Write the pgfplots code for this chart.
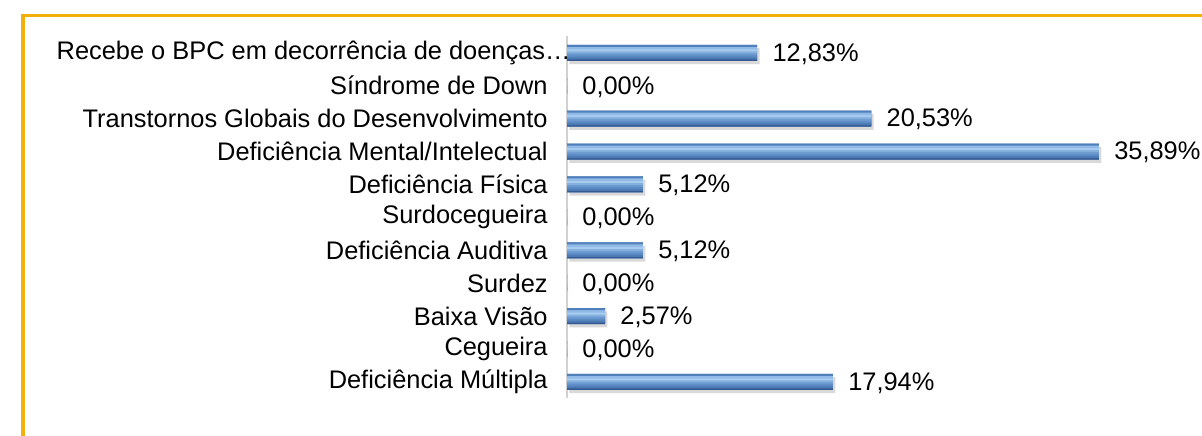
\documentclass[border=0pt]{standalone}
\usepackage{fontspec}
\setmainfont{Liberation Sans}
\usepackage{pgfplots}
\usepackage{pgfplotstable}
\pgfplotsset{compat=1.18}
\usetikzlibrary{shadows}
\definecolor{frame}{RGB}{240,178,10}
\definecolor{b0}{RGB}{80,128,188}
\definecolor{b1}{RGB}{145,186,230}
\definecolor{b2}{RGB}{168,204,240}
\definecolor{b3}{RGB}{132,176,222}
\definecolor{b4}{RGB}{108,154,208}
\definecolor{b5}{RGB}{92,139,196}
\definecolor{b6}{RGB}{76,122,180}
\definecolor{b7}{RGB}{52,90,145}
\pgfplotstableread{
val pos
17.94 0
0 1
2.57 2
0 3
5.12 4
0 5
5.12 6
35.89 7
20.53 8
0 9
12.83 10
}\datatab
\begin{document}
\begin{tikzpicture}
\useasboundingbox (0,0) rectangle (601pt,217.5pt);
\draw[frame, line width=1.6pt] (11.5pt,-2pt) -- (11.5pt,209.75pt) -- (605pt,209.75pt);
\begin{axis}[
  at={(283.5pt,18.3pt)}, anchor=south west,
  scale only axis,
  width=296.4pt, height=181pt,
  xmin=0, xmax=40,
  ymin=-0.5, ymax=10.5,
  axis x line=none,
  axis y line*=left,
  y axis line style={draw=black!18, line width=0.8pt, -},
  ytick={0,...,10},
  yticklabels={Deficiência Múltipla, Cegueira, Baixa Visão, Surdez, Deficiência Auditiva, Surdocegueira, Deficiência Física, Deficiência Mental/Intelectual, Transtornos Globais do Desenvolvimento, Síndrome de Down, {Recebe o BPC em decorrência de doenças…\hspace*{-11.5pt}}},
  major tick length=0pt,
  yticklabel style={font=\fontsize{12.7}{15}\selectfont, anchor=east, inner sep=0pt, xshift=-9.5pt},
  clip=false,
  /pgf/number format/assume math mode=true,
  every axis plot/.append style={xbar, draw=none},
]
\addplot[bar width=8pt, fill=b6, drop shadow={shadow xshift=1.2pt, shadow yshift=-1.6pt, opacity=0.3}] table[x=val, y=pos] {\datatab};
\addplot[bar width=1.5pt, bar shift=-3.25pt, fill=b7] table[x=val, y=pos] {\datatab};
\addplot[bar width=1.5pt, bar shift=-2.5pt, fill=b6] table[x=val, y=pos] {\datatab};
\addplot[bar width=1.5pt, bar shift=-1.5pt, fill=b5] table[x=val, y=pos] {\datatab};
\addplot[bar width=1.5pt, bar shift=-0.5pt, fill=b4] table[x=val, y=pos] {\datatab};
\addplot[bar width=1.5pt, bar shift=0.5pt, fill=b3] table[x=val, y=pos] {\datatab};
\addplot[bar width=1.5pt, bar shift=1.5pt, fill=b2] table[x=val, y=pos] {\datatab};
\addplot[bar width=1.5pt, bar shift=2.5pt, fill=b1] table[x=val, y=pos] {\datatab};
\addplot[bar width=1pt, bar shift=3.5pt, fill=b0,
  point meta=x,
  nodes near coords={\pgfmathprintnumber[fixed, fixed zerofill, precision=2, use comma]{\pgfplotspointmeta}\%},
  nodes near coords style={font=\fontsize{12.7}{15}\selectfont, anchor=west, inner sep=0pt, xshift=7.5pt, yshift=-0.5pt, black}]
  table[x=val, y=pos] {\datatab};
\end{axis}
\end{tikzpicture}
\end{document}
